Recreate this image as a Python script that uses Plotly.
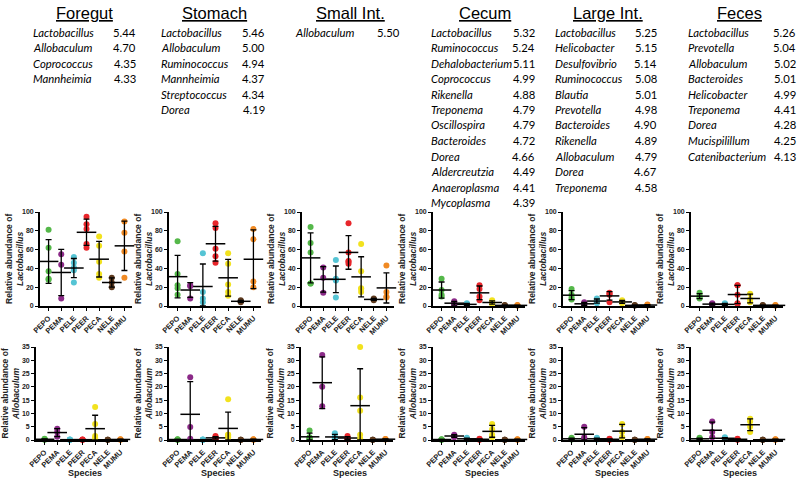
import numpy as np
import plotly.graph_objects as go

W, H = 800, 484

species = ["PEPO", "PEMA", "PELE", "PEER", "PECA", "NELE", "MUMU"]
colors = ["#55B84A", "#8B2A88", "#55C4D4", "#E8262B", "#F2E21E", "#5E3A1E", "#F08A24"]

sections = ["Foregut", "Stomach", "Small Int.", "Cecum", "Large Int.", "Feces"]

# LEfSe-like tables (genus, score)
foregut_genera = ["Lactobacillus", "Allobaculum", "Coprococcus", "Mannheimia"]
foregut_scores = ["5.44", "4.70", "4.35", "4.33"]
stomach_genera = ["Lactobacillus", "Allobaculum", "Ruminococcus", "Mannheimia", "Streptococcus", "Dorea"]
stomach_scores = ["5.46", "5.00", "4.94", "4.37", "4.34", "4.19"]
smallint_genera = ["Allobaculum"]
smallint_scores = ["5.50"]
cecum_genera = ["Lactobacillus", "Ruminococcus", "Dehalobacterium", "Coprococcus", "Rikenella", "Treponema",
                "Oscillospira", "Bacteroides", "Dorea", "Aldercreutzia", "Anaeroplasma", "Mycoplasma"]
cecum_scores = ["5.32", "5.24", "5.11", "4.99", "4.88", "4.79", "4.79", "4.72", "4.66", "4.49", "4.41", "4.39"]
largeint_genera = ["Lactobacillus", "Helicobacter", "Desulfovibrio", "Ruminococcus", "Blautia", "Prevotella",
                   "Bacteroides", "Rikenella", "Allobaculum", "Dorea", "Treponema"]
largeint_scores = ["5.25", "5.15", "5.14", "5.08", "5.01", "4.98", "4.90", "4.89", "4.79", "4.67", "4.58"]
feces_genera = ["Lactobacillus", "Prevotella", "Allobaculum", "Bacteroides", "Helicobacter", "Treponema",
                "Dorea", "Mucispilillum", "Catenibacterium"]
feces_scores = ["5.26", "5.04", "5.02", "5.01", "4.99", "4.41", "4.28", "4.25", "4.13"]

# Relative abundance of Lactobacillus (top row), per species
lacto_foregut = [[81, 62, 37, 29, 28], [55, 44, 8], [52, 46, 41, 38, 25], [95, 87, 82, 66, 62],
                 [74, 64, 47, 34, 30], [30, 25, 20], [90, 78, 58, 30]]
lacto_stomach = [[69, 34, 22, 19, 12], [22, 21, 8], [56, 15, 8, 4], [88, 83, 61, 53, 46],
                 [56, 45, 23, 15, 11], [6, 5, 4], [82, 71, 26, 20]]
lacto_smallint = [[84, 67, 57, 24, 24], [41, 30, 14], [49, 29, 28, 27, 9], [88, 57, 48, 47, 45],
                  [66, 37, 19, 15, 18], [8, 7, 6], [43, 15, 10, 9]]
lacto_cecum = [[29, 17, 12, 10], [5, 3, 1], [3, 2, 1, 1], [22, 18, 10, 6],
               [6, 4, 3, 2], [1, 0.5, 0.5], [1, 0.5, 0.5]]
lacto_largeint = [[18, 12, 9, 7], [4, 2, 1], [8, 6, 4, 3], [14, 13, 12, 4],
                  [6, 4, 3], [1, 0.5, 0.5], [1.5, 1, 0.5]]
lacto_feces = [[14, 11, 9, 8], [3, 2, 1], [3, 2, 1, 1], [22, 22, 12, 3, 2],
               [13, 7, 4], [1, 0.5, 0.5], [1, 0.5, 0.5]]

# Relative abundance of Allobaculum (bottom row)
allo_foregut = [[0.5, 0.3, 0.2, 0.1], [4.2, 3.0, 1.2], [0.2, 0.1, 0.1, 0.1], [0.2, 0.1, 0.1, 0.1],
                [12.4, 6.0, 1.5, 0.8, 0.6], [0.1, 0.1, 0.1], [0.3, 0.2, 0.1]]
allo_stomach = [[0.3, 0.2, 0.1, 0.1], [23.6, 4.9, 0.5], [0.2, 0.1, 0.1, 0.1], [1.5, 1.0, 0.7, 0.5, 0.3],
                [15.3, 2.0, 2.0, 1.5, 1.0], [0.1, 0.1, 0.1], [0.3, 0.2, 0.1]]
allo_smallint = [[3.6, 1.0, 0.8, 0.3, 0.3], [32.0, 20.0, 12.7], [2.5, 1.2, 0.6, 0.3], [1.5, 0.8, 0.5, 0.2],
                 [35.0, 16.0, 11.0, 2.0, 0.6], [0.1, 0.1, 0.1], [0.4, 0.3, 0.2]]
allo_cecum = [[0.3, 0.2, 0.1, 0.1], [2.0, 1.5, 1.0], [0.8, 0.5, 0.3, 0.2], [0.5, 0.3, 0.2, 0.1],
              [6.0, 4.0, 2.0, 1.0], [0.1, 0.1, 0.1], [0.3, 0.2, 0.1]]
allo_largeint = [[0.8, 0.5, 0.3, 0.2], [5.0, 1.0, 0.5], [0.8, 0.5, 0.3, 0.2], [0.5, 0.3, 0.2, 0.1],
                 [6.0, 3.0, 1.0], [0.1, 0.1, 0.1], [0.4, 0.3, 0.2]]
allo_feces = [[0.8, 0.5, 0.3, 0.2], [7.0, 3.0, 1.0], [1.0, 0.7, 0.5, 0.4], [0.5, 0.3, 0.2, 0.1],
              [8.0, 7.0, 5.0, 3.0], [0.1, 0.1, 0.1], [0.3, 0.2, 0.1]]

tables = [(foregut_genera, foregut_scores), (stomach_genera, stomach_scores), (smallint_genera, smallint_scores),
          (cecum_genera, cecum_scores), (largeint_genera, largeint_scores), (feces_genera, feces_scores)]
lacto = [lacto_foregut, lacto_stomach, lacto_smallint, lacto_cecum, lacto_largeint, lacto_feces]
allo = [allo_foregut, allo_stomach, allo_smallint, allo_cecum, allo_largeint, allo_feces]

# ---------- layout geometry (pixels) ----------
title_x = [84, 214, 350, 485, 608, 739]
genus_x = [31, 159, 293, 429, 553, 686]
score_right = [138, 267, 402, 537, 659, 798]
axis_x_top = [40, 169, 302, 433, 563, 691]
axis_x_bot = [36, 169, 301, 433, 563, 691]
panel_w = 92
top_y = (212, 306)
bot_y = (347, 440)
species_label_y = 473
ytitle_offset = 26

FONT = "Arial, Liberation Sans, sans-serif"
TFONT = "Lato, Open Sans, sans-serif"

fig = go.Figure()
layout = dict(width=W, height=H, margin=dict(l=0, r=0, t=0, b=0, autoexpand=False), paper_bgcolor="white",
              plot_bgcolor="white", showlegend=False)
annotations = []


def px_x(x):
    return x / W


def px_y(y):
    return 1 - y / H


def add_panel(idx, data, ax_left, yrange, ytitle, dtick, ydom):
    xa = "xaxis" if idx == 1 else f"xaxis{idx}"
    ya = "yaxis" if idx == 1 else f"yaxis{idx}"
    xr = "x" if idx == 1 else f"x{idx}"
    yr = "y" if idx == 1 else f"y{idx}"
    layout[xa] = dict(domain=[px_x(ax_left), px_x(ax_left + panel_w)], range=[-0.68, 6.6],
                      tickvals=list(range(7)), ticktext=species, tickangle=-45,
                      showline=True, linecolor="black", linewidth=1.8, ticks="outside",
                      ticklen=3, tickwidth=1.3, tickcolor="black", showgrid=False, zeroline=False,
                      tickfont=dict(family=FONT, size=7.5, color="#222", weight="bold"),
                      anchor=yr, fixedrange=True, automargin=False)
    layout[ya] = dict(domain=[px_y(ydom[1]), px_y(ydom[0])], range=yrange, dtick=dtick,
                      showline=True, linecolor="black", linewidth=1.8, ticks="outside",
                      ticklen=3, tickwidth=1.3, tickcolor="black", showgrid=False, zeroline=False,
                      tickfont=dict(family=FONT, size=7, color="#222", weight="bold"),
                      anchor=xr, fixedrange=True, automargin=False)
    annotations.append(dict(x=px_x(ax_left - ytitle_offset), y=px_y((ydom[0] + ydom[1]) / 2),
                            xref="paper", yref="paper", text=ytitle, showarrow=False, textangle=-90,
                            xanchor="center", yanchor="middle",
                            font=dict(family=FONT, size=8.5, color="#222", weight="bold")))
    for k, vals in enumerate(data):
        fig.add_trace(go.Scatter(x=[k] * len(vals), y=vals, mode="markers", xaxis=xr, yaxis=yr,
                                 marker=dict(color=colors[k], size=6, line=dict(width=0)),
                                 hoverinfo="skip", cliponaxis=False))
    for k, vals in enumerate(data):
        arr = np.array(vals, dtype=float)
        m = arr.mean()
        sd = arr.std(ddof=1) if len(arr) > 1 else 0.0
        lo = min(sd, m - yrange[0])
        fig.add_trace(go.Scatter(x=[k], y=[m], mode="markers", xaxis=xr, yaxis=yr,
                                 marker=dict(symbol="line-ew", size=14, color="black",
                                             line=dict(color="black", width=1.5)),
                                 error_y=dict(type="data", array=[sd], arrayminus=[lo], color="black",
                                              thickness=1.3, width=3),
                                 hoverinfo="skip", cliponaxis=False))


for c in range(6):
    add_panel(c + 1, lacto[c], axis_x_top[c], [0, 100],
              "Relative abundance of<br><i>Lactobacillus</i>", 20, top_y)
    add_panel(c + 7, allo[c], axis_x_bot[c], [0, 35],
              "Relative abundance of<br><i>Allobaculum</i>", 5, bot_y)
    annotations.append(dict(x=px_x(axis_x_bot[c] + panel_w / 2 + 3), y=px_y(species_label_y),
                            xref="paper", yref="paper", text="Species", showarrow=False,
                            xanchor="center", yanchor="middle",
                            font=dict(family=FONT, size=9, color="#222", weight="bold")))

# tables
row0, rowstep = 32, 15.5
for c in range(6):
    annotations.append(dict(x=px_x(title_x[c]), y=px_y(13), xref="paper", yref="paper",
                            text=f"<u>{sections[c]}</u>", showarrow=False, xanchor="center",
                            yanchor="middle", font=dict(family=FONT, size=16.5, color="black")))
    genera, scores = tables[c]
    for r, (g, s) in enumerate(zip(genera, scores)):
        y = row0 + r * rowstep
        annotations.append(dict(x=px_x(genus_x[c]), y=px_y(y), xref="paper", yref="paper",
                                text=f"<i>{g}</i>", showarrow=False, xanchor="left", yanchor="middle",
                                font=dict(family=TFONT, size=11.3, color="black")))
        annotations.append(dict(x=px_x(score_right[c]), y=px_y(y), xref="paper", yref="paper",
                                text=s, showarrow=False, xanchor="right", yanchor="middle",
                                font=dict(family=TFONT, size=11.3, color="black")))

layout["annotations"] = annotations
fig.update_layout(**layout)
fig.write_html("out.html", config={"displayModeBar": False},
               post_script="document.body.style.margin='0';")
